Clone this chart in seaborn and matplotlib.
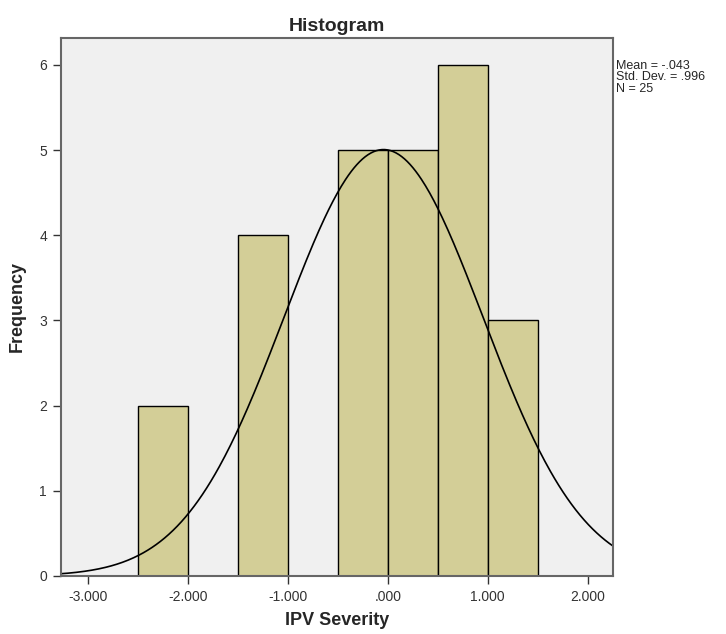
import numpy as np
import pandas as pd
import matplotlib
matplotlib.use("Agg")
import matplotlib.pyplot as plt
import seaborn as sns

# histogram bins (bin width .5)
bin_left = [-2.5, -2.0, -1.5, -1.0, -0.5, 0.0, 0.5, 1.0, 1.5]
counts = [2, 0, 4, 0, 5, 5, 6, 3, 0]
mean, sd, n = -0.043, 0.996, 25
bin_width = 0.5

x_ticks = [-3, -2, -1, 0, 1, 2]
x_tick_labels = ["-3.000", "-2.000", "-1.000", ".000", "1.000", "2.000"]
y_ticks = [0, 1, 2, 3, 4, 5, 6]

sns.set_style("white")
plt.rcParams["font.family"] = ["Liberation Sans", "DejaVu Sans"]

df = pd.DataFrame({"center": np.array(bin_left) + bin_width / 2, "count": counts})

fig = plt.figure(figsize=(7.26, 6.34), dpi=100)
ax = fig.add_axes([0.084, 0.0915, 0.76, 0.849])
ax.set_facecolor("#F0F0F0")

sns.histplot(data=df, x="center", weights="count", binwidth=bin_width,
             binrange=(-2.5, 2.0), ax=ax,
             color="#D3CE97", alpha=1, edgecolor="black", linewidth=1)

xs = np.linspace(-3.3, 2.3, 400)
pdf = n * bin_width / (sd * np.sqrt(2 * np.pi)) * np.exp(-0.5 * ((xs - mean) / sd) ** 2)
sns.lineplot(x=xs, y=pdf, ax=ax, color="black", linewidth=1.2)

ax.set_xlim(-3.27, 2.25)
ax.set_ylim(0, 6.32)
ax.set_xticks(x_ticks)
ax.set_xticklabels(x_tick_labels)
ax.set_yticks(y_ticks)
ax.tick_params(axis="both", which="both", length=6, width=1, colors="#333333",
               labelsize=10, direction="out", bottom=True, left=True, pad=4)
for s in ax.spines.values():
    s.set_color("#666666")
    s.set_linewidth(1.5)

ax.set_xlabel("IPV Severity", fontsize=13, fontweight="bold", labelpad=6)
ax.set_ylabel("Frequency", fontsize=13, fontweight="bold", labelpad=10)
ax.set_title("Histogram", fontsize=14, fontweight="bold", pad=5)

fig.text(0.848, 0.906, f"Mean = -.043\nStd. Dev. = .996\nN = {n}",
         fontsize=9, va="top", ha="left", linespacing=0.95)

fig.savefig("out.png", dpi=100)
